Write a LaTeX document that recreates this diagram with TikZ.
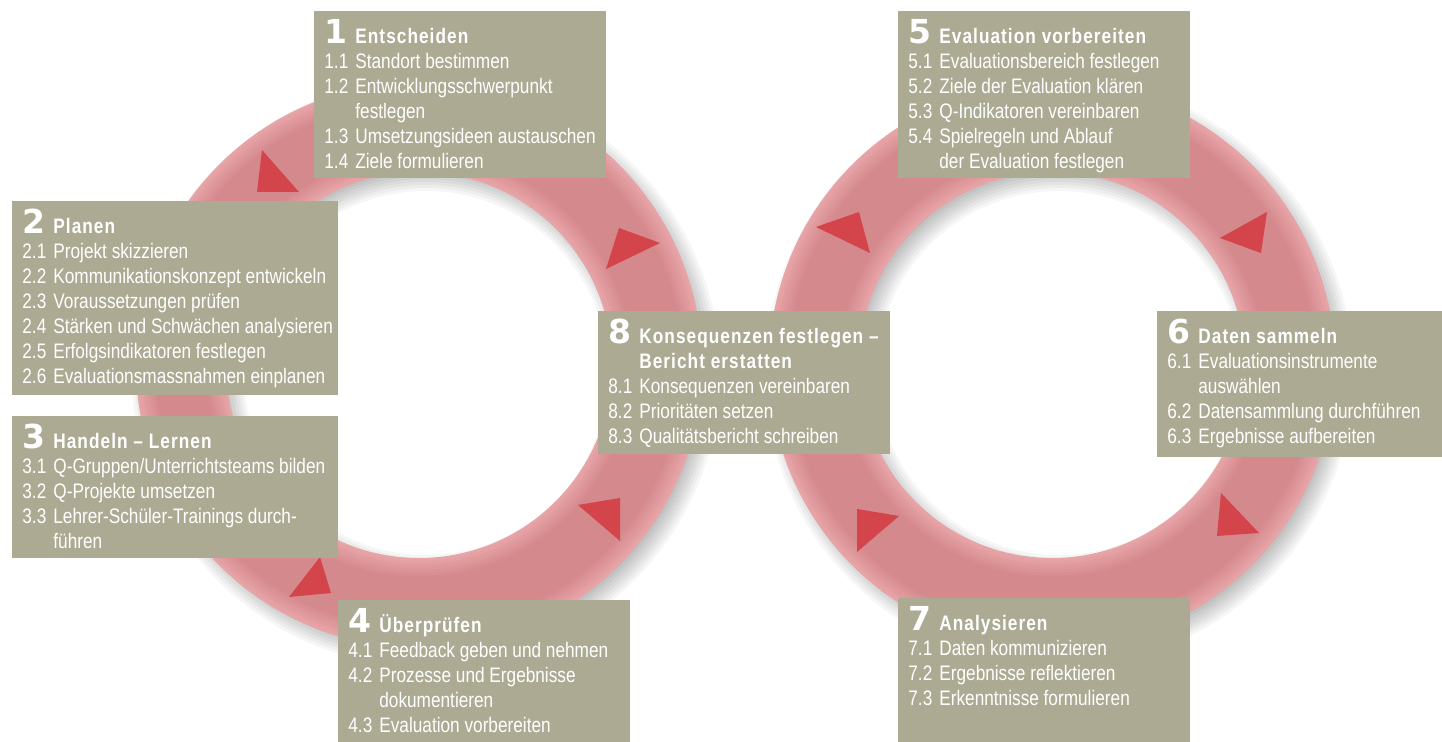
\documentclass[tikz,border=0pt]{standalone}
\usepackage{fontspec}
\usepackage{array}
\setmainfont{Liberation Sans}[FakeStretch=0.82]
\newfontfamily\headfont{Liberation Sans}[FakeStretch=0.82,LetterSpace=5]
\newfontfamily\numfont{DejaVu Sans}
\usetikzlibrary{calc}
\definecolor{boxc}{HTML}{ACAA93}
\definecolor{ringlight}{HTML}{E7A4A7}
\definecolor{ringdark}{HTML}{D4898D}
\definecolor{arrowc}{HTML}{D3444B}
\newcommand\hd[2]{{\numfont\bfseries\fontsize{16.5pt}{16.5pt}\selectfont #1} & {\headfont\bfseries #2}\\}
\newcommand\hc[1]{ & {\headfont\bfseries #1}\\}
\newcommand\itm[2]{#1 & #2\\}
\newcommand\cont[1]{ & #1\\}
\newenvironment{steptab}{\begin{tabular}[t]{@{}w{l}{15.5pt}@{}l@{}}}{\end{tabular}}
\begin{document}
\begin{tikzpicture}[x=0.5pt,y=-0.5pt,
  box/.style={fill=boxc, inner sep=0pt, outer sep=0pt, anchor=north west},
  txt/.style={anchor=base west, inner sep=0pt, text=white, font=\fontsize{10.5pt}{12.5pt}\selectfont},
  tri/.style={fill=arrowc}]
\useasboundingbox (0,0) rectangle (1442,742);
\fill[white] (0,0) rectangle (1442,742);
\coordinate (L) at (419,365);
\coordinate (R) at (1052,365);
% soft shadows of the rings
\foreach \cc in {L,R}{
  \foreach \k in {1,...,8}{
    \fill[black,opacity=0.035,even odd rule]
      ($(\cc)+(7,8)$) circle[radius={(297-3*\k)*0.5pt}]
      ($(\cc)+(7,8)$) circle[radius={(179+3*\k)*0.5pt}];
  }
}
% rings
\foreach \cc in {L,R}{
  \foreach \i in {0,...,14}{
    \pgfmathsetmacro\w{45-3*\i}
    \pgfmathsetmacro\p{min(100,\i*16)}
    \draw[line width=\w pt, draw=ringdark!\p!ringlight] (\cc) circle[radius=119pt];
  }
}
% direction triangles
\fill[tri] (262,150) -- (257,192) -- (299,192) -- cycle;
\fill[tri] (619,228) -- (660,243) -- (606,269) -- cycle;
\fill[tri] (578,505) -- (620,498) -- (620,541) -- cycle;
\fill[tri] (320,557) -- (331,593) -- (289,597) -- cycle;
\fill[tri] (816,227) -- (859,212) -- (870,253) -- cycle;
\fill[tri] (1220,238) -- (1267,212) -- (1261,253) -- cycle;
\fill[tri] (857,509) -- (899,516) -- (857,552) -- cycle;
\fill[tri] (1221,493) -- (1259,533) -- (1217,536) -- cycle;
% boxes
\node[box, minimum width=146pt, minimum height=83.5pt] (b1) at (314,11) {};
\node[box, minimum width=163pt, minimum height=97pt] (b2) at (12,201) {};
\node[box, minimum width=163pt, minimum height=71pt] (b3) at (12,416) {};
\node[box, minimum width=146pt, minimum height=71pt] (b4) at (338,600) {};
\node[box, minimum width=146pt, minimum height=83.5pt] (b5) at (898,11) {};
\node[box, minimum width=142.5pt, minimum height=73pt] (b6) at (1157,311) {};
\node[box, minimum width=146pt, minimum height=72pt] (b7) at (898,598) {};
\node[box, minimum width=146pt, minimum height=71.5pt] (b8) at (598,311) {};
% texts
\node[txt] (t1) at (324,44) {\begin{steptab}
\hd{1}{Entscheiden}
\itm{1.1}{Standort bestimmen}
\itm{1.2}{Entwicklungsschwerpunkt}
\cont{festlegen}
\itm{1.3}{Umsetzungsideen austauschen}
\itm{1.4}{Ziele formulieren}
\end{steptab}};
\node[txt] (t2) at (22,234) {\begin{steptab}
\hd{2}{Planen}
\itm{2.1}{Projekt skizzieren}
\itm{2.2}{Kommunikationskonzept entwickeln}
\itm{2.3}{Voraussetzungen prüfen}
\itm{2.4}{Stärken und Schwächen analysieren}
\itm{2.5}{Erfolgsindikatoren festlegen}
\itm{2.6}{Evaluationsmassnahmen einplanen}
\end{steptab}};
\node[txt] (t3) at (22,449) {\begin{steptab}
\hd{3}{Handeln – Lernen}
\itm{3.1}{Q-Gruppen/Unterrichtsteams bilden}
\itm{3.2}{Q-Projekte umsetzen}
\itm{3.3}{Lehrer-Schüler-Trainings durch-}
\cont{führen}
\end{steptab}};
\node[txt] (t4) at (348,633) {\begin{steptab}
\hd{4}{Überprüfen}
\itm{4.1}{Feedback geben und nehmen}
\itm{4.2}{Prozesse und Ergebnisse}
\cont{dokumentieren}
\itm{4.3}{Evaluation vorbereiten}
\end{steptab}};
\node[txt] (t5) at (908,44) {\begin{steptab}
\hd{5}{Evaluation vorbereiten}
\itm{5.1}{Evaluationsbereich festlegen}
\itm{5.2}{Ziele der Evaluation klären}
\itm{5.3}{Q-Indikatoren vereinbaren}
\itm{5.4}{Spielregeln und Ablauf}
\cont{der Evaluation festlegen}
\end{steptab}};
\node[txt] (t6) at (1167,344) {\begin{steptab}
\hd{6}{Daten sammeln}
\itm{6.1}{Evaluationsinstrumente}
\cont{auswählen}
\itm{6.2}{Datensammlung durchführen}
\itm{6.3}{Ergebnisse aufbereiten}
\end{steptab}};
\node[txt] (t7) at (908,631) {\begin{steptab}
\hd{7}{Analysieren}
\itm{7.1}{Daten kommunizieren}
\itm{7.2}{Ergebnisse reflektieren}
\itm{7.3}{Erkenntnisse formulieren}
\end{steptab}};
\node[txt] (t8) at (608,344) {\begin{steptab}
\hd{8}{Konsequenzen festlegen –}
\hc{Bericht erstatten}
\itm{8.1}{Konsequenzen vereinbaren}
\itm{8.2}{Prioritäten setzen}
\itm{8.3}{Qualitätsbericht schreiben}
\end{steptab}};
\end{tikzpicture}
\end{document}
